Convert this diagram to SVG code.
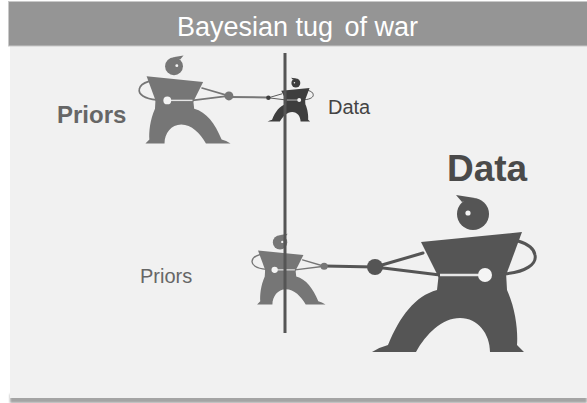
<svg xmlns="http://www.w3.org/2000/svg" xmlns:xlink="http://www.w3.org/1999/xlink" width="587" height="403" viewBox="0 0 587 403">
  <style>
    .title { font-family: "Liberation Sans", Arial, sans-serif; font-size: 27px; fill: #ffffff; }
    .lbl { font-family: "Liberation Sans", Arial, sans-serif; }
    .bold { font-weight: bold; }
    .arm { fill: none; stroke: currentColor; stroke-width: 3; stroke-linecap: round; }
    .rope { fill: none; stroke-linecap: round; }
  </style>
  <defs>
    <filter id="soft" x="-5%" y="-50%" width="110%" height="200%">
      <feGaussianBlur stdDeviation="1.2"/>
    </filter>
    <!-- one tug-of-war figure, facing left, origin at the middle of its feet -->
    <g id="man">
      <!-- hips and legs -->
      <path fill="currentColor" d="M -31,-80 L 36,-80 L 37,-62 C 46,-42 48,-20 47,-7 L 54,0 L 20,0 C 20,-18 8,-34 -10,-34 C -28,-34 -44,-18 -54,0 L -98,0 Q -90,-5 -82,-7 C -70,-36 -55,-56 -33,-62 Z"/>
      <!-- torso -->
      <polygon fill="currentColor" points="-49,-110 52,-120 35,-74 -30,-72"/>
      <!-- head with hair tuft -->
      <circle fill="currentColor" cx="3" cy="-138" r="16"/>
      <path fill="currentColor" d="M -8,-150 L -14,-157 L 5,-154 Z"/>
      <circle fill="#f4f4f4" cx="-2" cy="-139" r="2.6"/>
      <!-- arms -->
      <path class="arm" d="M -95,-85 L -47,-99 M -95,-85 L -30,-77"/>
      <!-- rope round the waist -->
      <path fill="none" stroke="#e6e6e6" stroke-width="2.5" d="M -30,-77 L 15,-77"/>
      <path class="arm" d="M 15,-77 L 34,-78 C 56,-80 67,-88 65,-97 C 64,-104 58,-108 48,-111"/>
      <circle fill="#f4f4f4" cx="15" cy="-77" r="7"/>
      <!-- hand -->
      <circle fill="currentColor" cx="-95" cy="-85" r="8"/>
    </g>
  </defs>

  <!-- page -->
  <g id="panel">
    <rect x="10" y="394" width="577" height="9" fill="#a4a4a4" filter="url(#soft)"/>
    <rect x="10" y="46" width="577" height="352" fill="#f1f1f1"/>
  </g>
  <g id="header">
    <rect x="8.5" y="1.5" width="579" height="44.5" fill="#959595" stroke="#c9c9c9" stroke-width="1"/>
    <text class="title" x="297.5" y="36" text-anchor="middle">Bayesian tug<tspan dx="4"> of war</tspan></text>
  </g>

  <!-- ropes between the pulling hands -->
  <g id="connectors">
    <line class="rope" x1="229" y1="97" x2="268" y2="97.5" stroke="#777777" stroke-width="2"/>
    <line class="rope" x1="324" y1="266" x2="375" y2="267" stroke="#555555" stroke-width="3"/>
  </g>

  <g id="priors-top" style="color:#767676">
    <use xlink:href="#man" transform="translate(175.7,143.5) scale(-0.56,0.56)"/>
  </g>
  <g id="data-top" style="color:#3e3e3e">
    <use xlink:href="#man" transform="translate(295,121.6) scale(0.28)"/>
  </g>
  <g id="priors-bottom" style="color:#767676">
    <use xlink:href="#man" transform="translate(281.4,304.5) scale(-0.45,0.45)"/>
  </g>
  <g id="data-bottom" style="color:#555555">
    <use xlink:href="#man" transform="translate(470,352)"/>
  </g>

  <!-- centre line -->
  <g id="pole">
    <line x1="285" y1="53" x2="285" y2="333" stroke="#555555" stroke-width="3"/>
  </g>

  <g id="labels">
    <text class="lbl bold" x="57" y="123" font-size="24" fill="#666666">Priors</text>
    <text class="lbl" x="328" y="114" font-size="20" fill="#444444">Data</text>
    <text class="lbl bold" x="447" y="181" font-size="37" fill="#4a4a4a">Data</text>
    <text class="lbl" x="140" y="283" font-size="20" fill="#666666">Priors</text>
  </g>
</svg>
